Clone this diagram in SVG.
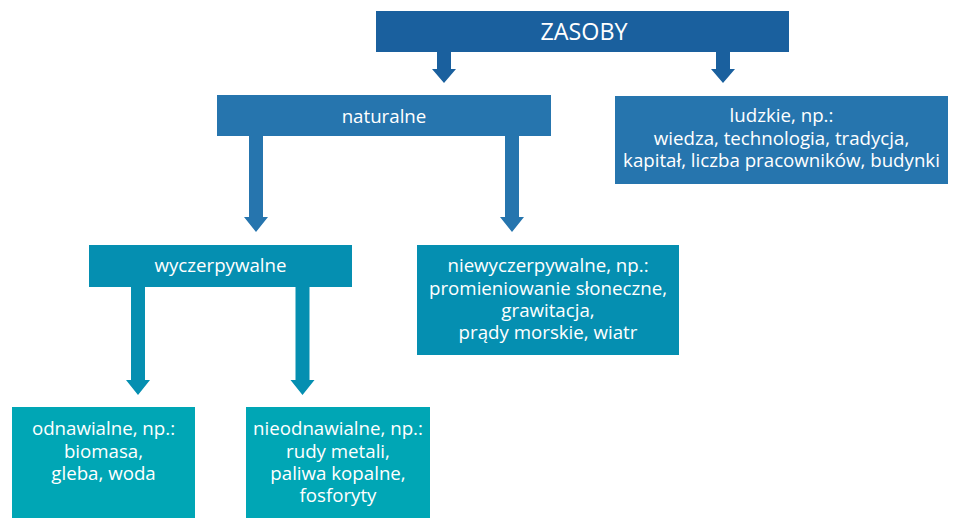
<svg xmlns="http://www.w3.org/2000/svg" width="960" height="530" viewBox="0 0 960 530">
<style>
text{font-family:"Open Sans","Noto Sans","Liberation Sans",sans-serif;font-size:18.7px;fill:#ffffff;text-anchor:middle}
.c1{fill:#1a609e}
.c2{fill:#2675ae}
.c3{fill:#058fb1}
.c4{fill:#00a6b5}
</style>
<rect width="960" height="530" fill="#ffffff"/>
<g id="connectors">
<path class="c1" d="M437,52H451V69H456L444,83L432,69H437Z"/>
<path class="c1" d="M716,52H730V69H735L723,83L711,69H716Z"/>
<path class="c2" d="M249,136H263V217H268L256,232L244,217H249Z"/>
<path class="c2" d="M505,136H519V217H524L512,232L500,217H505Z"/>
<path class="c3" d="M131,287H145V380H150L138,395L126,380H131Z"/>
<path class="c3" d="M295.5,287H309.5V380H314.5L302.5,395L290.5,380H295.5Z"/>
</g>
<g id="zasoby">
<rect class="c1" x="376" y="11" width="413" height="41"/>
<text x="584" y="40" style="font-size:23.3px">ZASOBY</text>
</g>
<g id="naturalne">
<rect class="c2" x="217" y="95" width="334" height="41"/>
<text x="384" y="123">naturalne</text>
</g>
<g id="ludzkie">
<rect class="c2" x="615" y="96" width="333" height="88"/>
<text x="781.5" y="122">ludzkie, np.:</text>
<text x="781.5" y="145">wiedza, technologia, tradycja,</text>
<text x="781.5" y="167">kapitał, liczba pracowników, budynki</text>
</g>
<g id="wyczerpywalne">
<rect class="c3" x="89" y="245" width="263" height="42"/>
<text x="220.5" y="272">wyczerpywalne</text>
</g>
<g id="niewyczerpywalne">
<rect class="c3" x="417" y="245" width="262" height="110"/>
<text x="548" y="272">niewyczerpywalne, np.:</text>
<text x="548" y="295">promieniowanie słoneczne,</text>
<text x="548" y="317">grawitacja,</text>
<text x="548" y="339">prądy morskie, wiatr</text>
</g>
<g id="odnawialne">
<rect class="c4" x="12" y="407" width="183" height="111"/>
<text x="103.5" y="435">odnawialne, np.:</text>
<text x="103.5" y="458">biomasa,</text>
<text x="103.5" y="480">gleba, woda</text>
</g>
<g id="nieodnawialne">
<rect class="c4" x="246" y="407" width="184" height="111"/>
<text x="338" y="435">nieodnawialne, np.:</text>
<text x="338" y="458">rudy metali,</text>
<text x="338" y="480">paliwa kopalne,</text>
<text x="338" y="502">fosforyty</text>
</g>
</svg>
